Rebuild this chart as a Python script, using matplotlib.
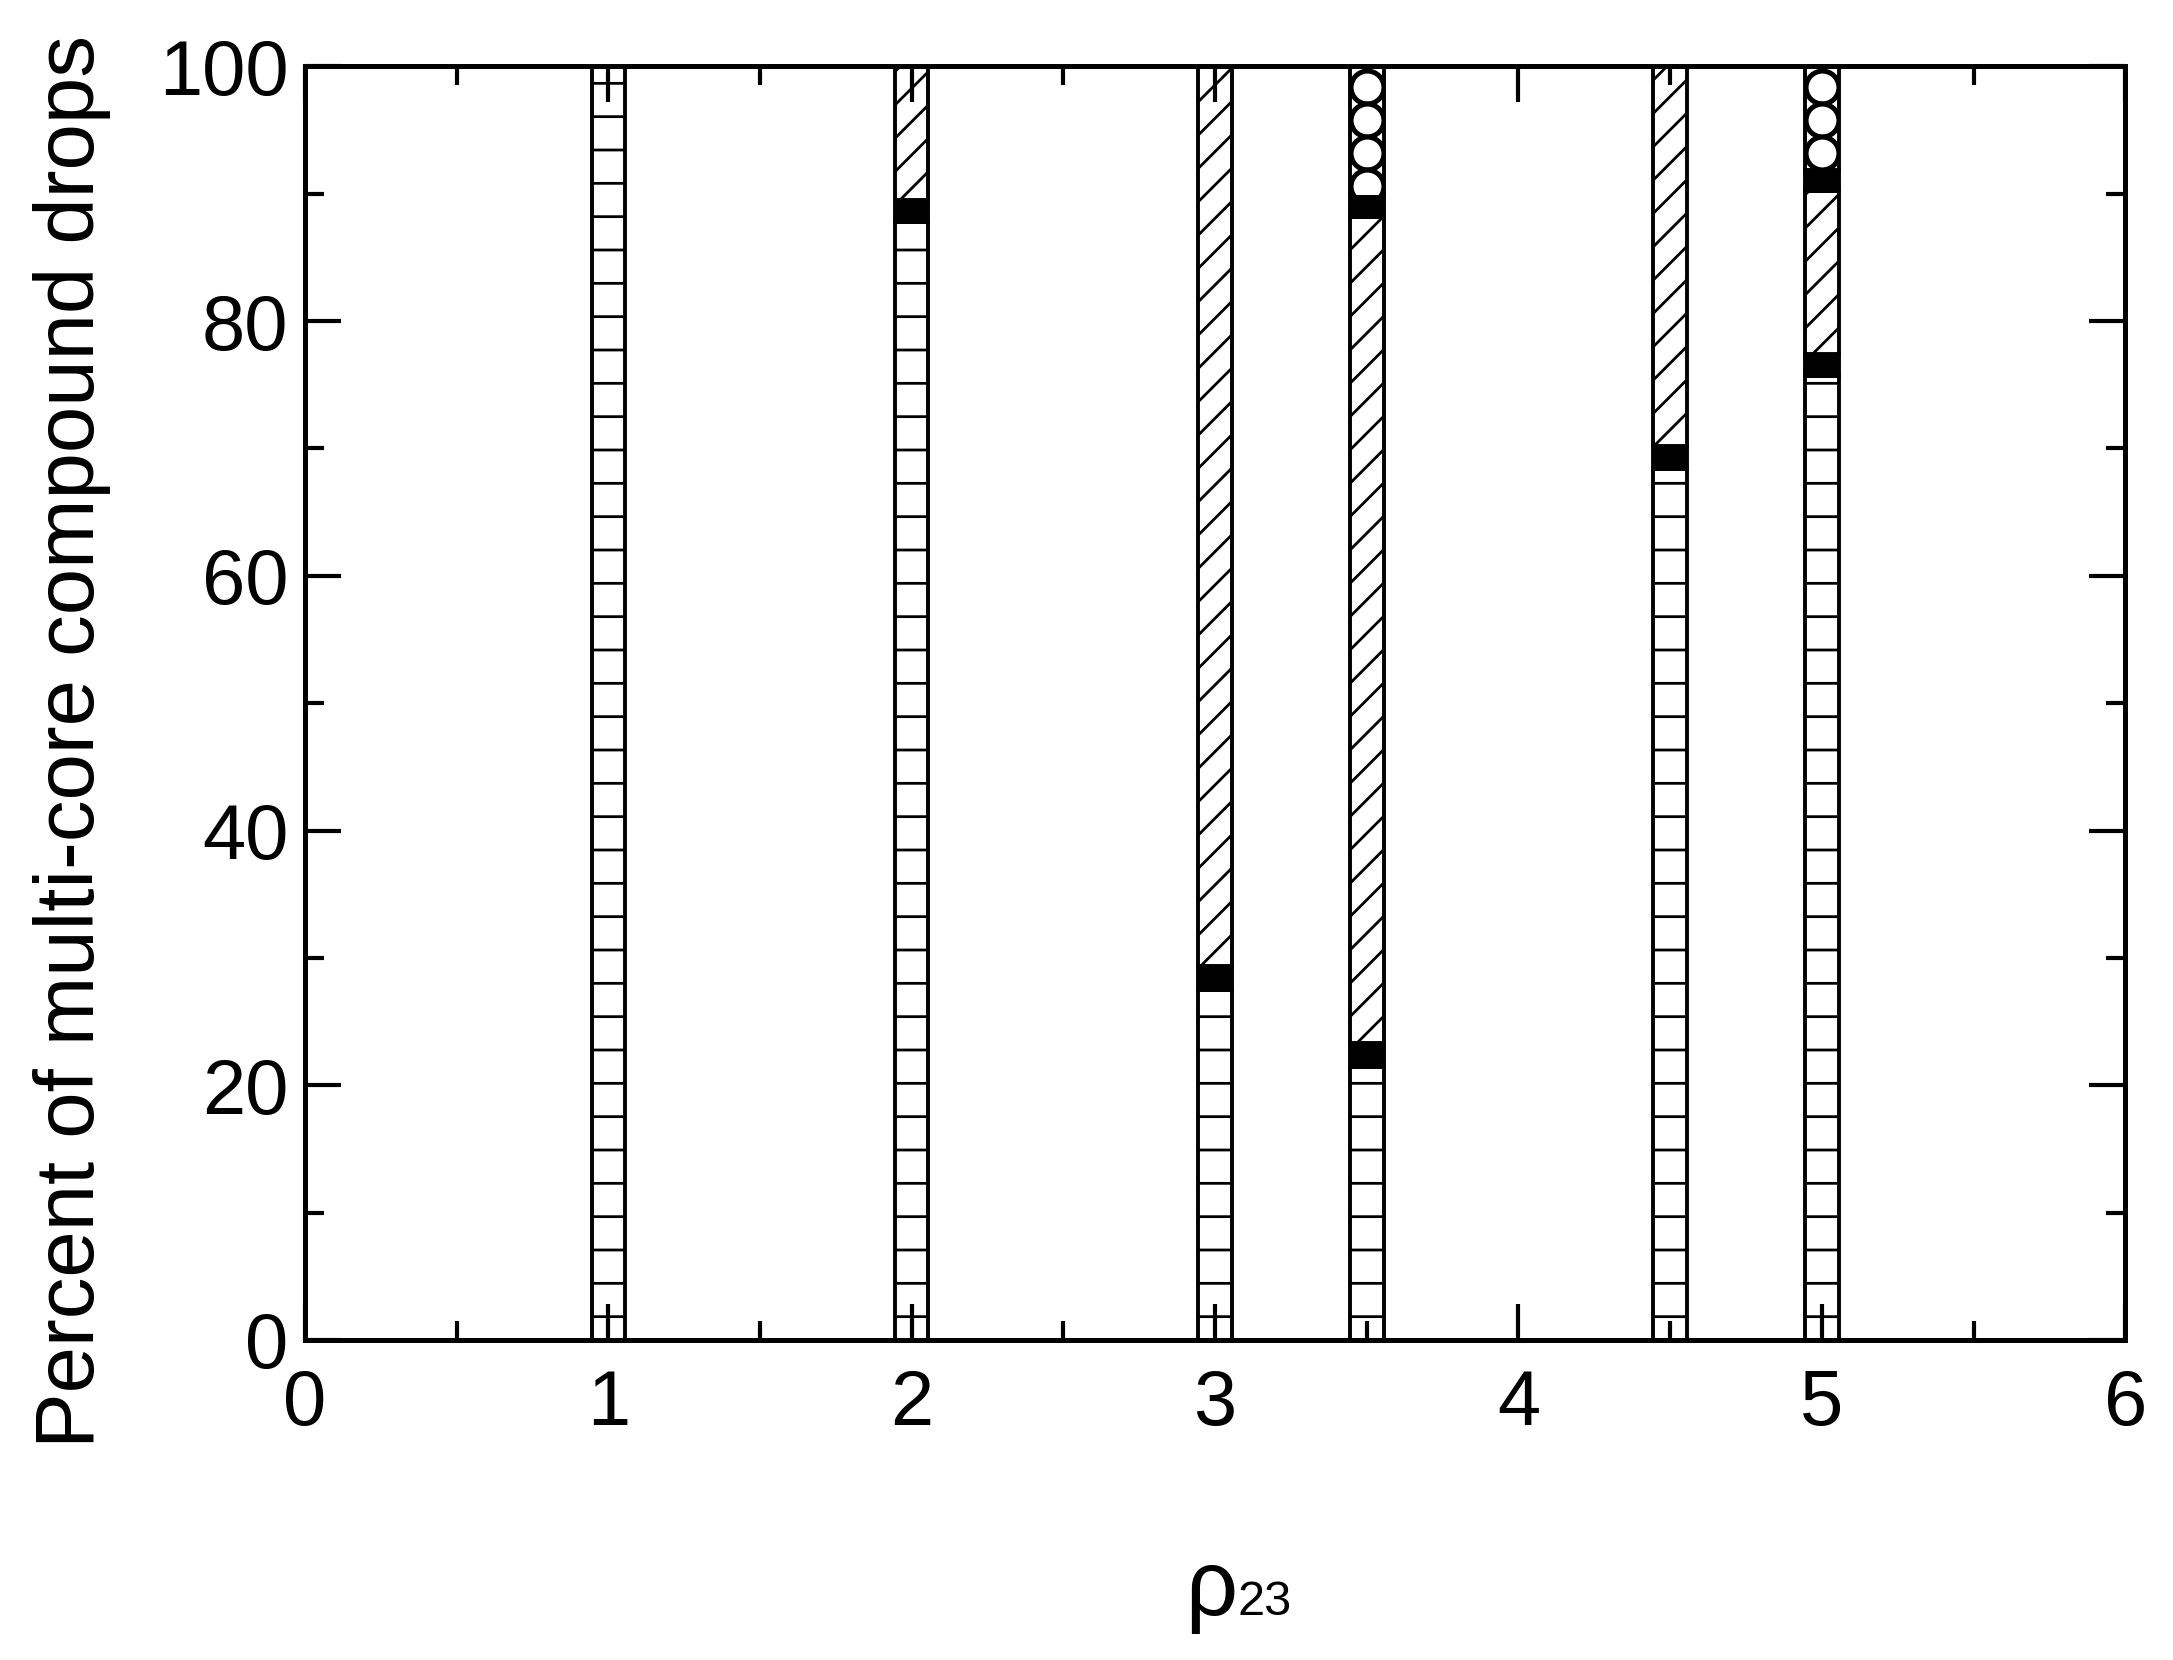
import numpy as np
import matplotlib
matplotlib.use('Agg')
import matplotlib.pyplot as plt
from matplotlib.ticker import MultipleLocator

plt.rcParams['font.family'] = ['Liberation Sans', 'DejaVu Sans']
plt.rcParams['hatch.linewidth'] = 1.0
plt.rcParams['hatch.color'] = 'black'

# rho_23 positions and stacked percentages (bottom -> top)
rho = [1, 2, 3, 3.5, 4.5, 5]
lines_pct = [100, 87.8, 27.5, 21.4, 68.4, 75.7]
band1_pct = [0, 1.7, 1.9, 1.9, 1.8, 1.7]
hatch_pct = [0, 10.5, 70.6, 64.9, 29.8, 12.8]
band2_pct = [0, 0, 0, 1.8, 0, 1.7]
circle_pct = [0, 0, 0, 10.0, 0, 8.1]

xticks = [0, 1, 2, 3, 4, 5, 6]
yticks = [0, 20, 40, 60, 80, 100]

fig = plt.figure(figsize=(2173 / 200, 1660 / 200), dpi=200)
ax = fig.add_axes([0.1404, 0.1928, 0.8376, 0.7672])

w = 0.11
segments = [
    (lines_pct, dict(facecolor='white', hatch='-')),
    (band1_pct, dict(facecolor='black')),
    (hatch_pct, dict(facecolor='white', hatch='//')),
    (band2_pct, dict(facecolor='black')),
    (circle_pct, dict(facecolor='white')),
]

bottom = np.zeros(len(rho))
for k, (vals, style) in enumerate(segments):
    vals = np.array(vals, dtype=float)
    for i in range(len(rho)):
        if vals[i] <= 0:
            continue
        bar = ax.bar(rho[i], vals[i], width=w, bottom=bottom[i], edgecolor='black',
                     linewidth=1.4, zorder=1, **style)[0]
        if k == 4:
            # circle fill pattern, clipped to the segment
            top = bottom[i] + vals[i]
            cy = np.arange(top - 1.6, bottom[i] - 1.3, -2.6)
            sc = ax.scatter(np.full(len(cy), rho[i]), cy, s=140, marker='o',
                            facecolor='white', edgecolor='black', linewidths=1.8, zorder=2)
            sc.set_clip_path(bar)
    bottom += vals

ax.set_xlim(0, 6)
ax.set_ylim(0, 100)
ax.set_xticks(xticks)
ax.set_yticks(yticks)
ax.xaxis.set_minor_locator(MultipleLocator(0.5))
ax.yaxis.set_minor_locator(MultipleLocator(10))
ax.tick_params(which='both', direction='in', top=True, right=True, width=1.5, colors='black')
ax.tick_params(which='major', length=13)
ax.tick_params(which='minor', length=6.8)
ax.tick_params(axis='x', labelsize=28, pad=10)
ax.tick_params(axis='y', labelsize=28, pad=6)
for s in ax.spines.values():
    s.set_linewidth(1.8)

fig.text(0.033, 0.5536, 'Percent of multi-core compound drops', rotation=90,
         ha='center', va='center', fontsize=30)
fig.text(0.5453, 0.0271, 'ρ', fontsize=33, ha='left', va='baseline')
fig.text(0.5697, 0.0271, '23', fontsize=17.5, ha='left', va='baseline')

fig.savefig('out.png', dpi=200)
